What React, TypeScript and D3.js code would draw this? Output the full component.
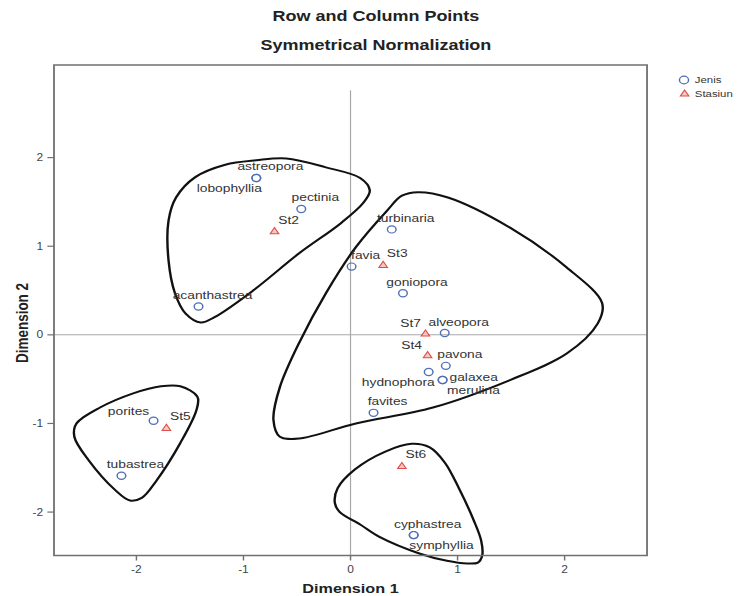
import React from 'react';
import * as d3 from 'd3';

// ---------- data ----------
const TITLE = 'Row and Column Points';
const SUBTITLE = 'Symmetrical Normalization';
const X_LABEL = 'Dimension 1';
const Y_LABEL = 'Dimension 2';
const X_TICKS = [-2, -1, 0, 1, 2];
const Y_TICKS = [-2, -1, 0, 1, 2];
const LEGEND_LABELS = ['Jenis', 'Stasiun'];

const JENIS_NAMES = ['astreopora', 'lobophyllia', 'pectinia', 'acanthastrea', 'turbinaria', 'favia', 'goniopora', 'alveopora', 'pavona', 'hydnophora', 'galaxea', 'merulina', 'favites', 'porites', 'tubastrea', 'cyphastrea', 'symphyllia'];
const JENIS_DIM1 = [-0.88, -0.88, -0.46, -1.42, 0.385, 0.01, 0.49, 0.88, 0.89, 0.73, 0.86, 0.86, 0.215, -1.84, -2.14, 0.59, 0.59];
const JENIS_DIM2 = [1.77, 1.77, 1.42, 0.32, 1.19, 0.77, 0.47, 0.02, -0.35, -0.42, -0.51, -0.51, -0.88, -0.97, -1.59, -2.26, -2.26];

const STASIUN_NAMES = ['St2', 'St3', 'St4', 'St5', 'St6', 'St7'];
const STASIUN_DIM1 = [-0.71, 0.305, 0.72, -1.72, 0.48, 0.7];
const STASIUN_DIM2 = [1.17, 0.79, -0.23, -1.05, -1.48, 0.015];

// hand-drawn group outlines (dimension units)
const HULL_TOP_LEFT = [[-0.88, 1.97], [-0.6, 1.99], [-0.23, 1.89], [0.09, 1.77], [0.18, 1.63], [0.12, 1.49], [-0.09, 1.26], [-0.48, 0.92], [-0.91, 0.5], [-1.27, 0.2], [-1.4, 0.14], [-1.54, 0.24], [-1.64, 0.47], [-1.7, 0.84], [-1.7, 1.29], [-1.63, 1.55], [-1.45, 1.78], [-1.17, 1.92]];
const HULL_CENTER = [[0.63, 1.61], [0.91, 1.55], [1.49, 1.21], [2.02, 0.76], [2.35, 0.36], [2.31, 0.13], [2.02, -0.21], [1.49, -0.51], [0.77, -0.82], [0.05, -1.0], [-0.48, -1.17], [-0.66, -1.15], [-0.72, -0.96], [-0.66, -0.59], [-0.48, -0.09], [-0.23, 0.47], [0.05, 0.99], [0.34, 1.4], [0.48, 1.57]];
const HULL_BOTTOM_LEFT = [[-1.59, -0.58], [-1.43, -0.7], [-1.44, -0.85], [-1.59, -1.22], [-1.81, -1.64], [-1.95, -1.84], [-2.06, -1.87], [-2.2, -1.75], [-2.45, -1.41], [-2.58, -1.15], [-2.56, -1.0], [-2.34, -0.82], [-2.03, -0.66], [-1.77, -0.58]];
const HULL_BOTTOM = [[-0.146, -1.9], [-0.12, -1.73], [0.04, -1.52], [0.32, -1.32], [0.57, -1.23], [0.74, -1.27], [0.88, -1.44], [1.02, -1.75], [1.15, -2.09], [1.22, -2.32], [1.23, -2.49], [1.19, -2.57], [1.09, -2.58], [0.9, -2.55], [0.65, -2.47], [0.27, -2.28], [0.09, -2.14], [-0.1, -2.0]];

// ---------- layout ----------
const W = 738;
const H = 596;
const SX = 1.2; // horizontal stretch of the original picture
const LEFT = 45;
const RIGHT = 539.2;
const TOP = 65;
const BOTTOM = 555.5;
const FONT = '"Liberation Sans", Arial, Helvetica, sans-serif';

// label placement: [anchor, dx, dy]
const DEFAULT_PLACE: [string, number, number] = ['middle', 11.7, -7.5];
const LABEL_PLACE: Record<string, [string, number, number]> = {
  lobophyllia: ['end', 4.6, 14],
  St7: ['end', -3.8, -6],
  St4: ['end', -4.7, -6],
  porites: ['end', -3.6, -5.4],
  hydnophora: ['end', 5, 14],
  galaxea: ['start', 5.8, 1.3],
  merulina: ['start', 3.7, 14],
  symphyllia: ['start', -3.6, 14],
};

export default function App() {
  const x = d3.scaleLinear().domain([-2.77, 2.77]).range([LEFT, RIGHT]);
  const y = d3.scaleLinear().domain([-2.49, 3.045]).range([BOTTOM, TOP]);

  const hullLine = d3
    .line<number[]>()
    .x((d) => x(d[0]))
    .y((d) => y(d[1]))
    .curve(d3.curveCatmullRomClosed.alpha(0.5));

  const tri = d3.symbol().type(d3.symbolTriangle).size(22)();

  const jenis = JENIS_NAMES.map((n, i) => ({ n, x: JENIS_DIM1[i], y: JENIS_DIM2[i] }));
  const stasiun = STASIUN_NAMES.map((n, i) => ({ n, x: STASIUN_DIM1[i], y: STASIUN_DIM2[i] }));
  const allLabels = [...jenis, ...stasiun];

  const circleColor = '#4f6fb6';
  const triColor = '#df4f48';
  const labelColor = '#333333';

  return (
    <svg
      width={W}
      height={H}
      style={{ position: 'absolute', left: 0, top: 0, background: '#fff' }}
      fontFamily={FONT}
    >
      <rect x={0} y={0} width={W} height={H} fill="#fff" />
      <g transform={`scale(${SX},1)`}>
        {/* titles */}
        <text x={313.3} y={21} textAnchor="middle" fontWeight="bold" fontSize={15} fill="#222">
          {TITLE}
        </text>
        <text x={313.3} y={50} textAnchor="middle" fontWeight="bold" fontSize={15} fill="#222">
          {SUBTITLE}
        </text>

        {/* reference lines */}
        <line x1={LEFT} x2={RIGHT} y1={y(0)} y2={y(0)} stroke="#a8a8a8" strokeWidth={1} />
        <line x1={x(0)} x2={x(0)} y1={y(2.76)} y2={BOTTOM} stroke="#a8a8a8" strokeWidth={1} />

        {/* group outlines */}
        <g fill="none" stroke="#111" strokeWidth={2}>
          {[HULL_TOP_LEFT, HULL_CENTER, HULL_BOTTOM_LEFT, HULL_BOTTOM].map((h, i) => (
            <path key={i} d={hullLine(h) || ''} />
          ))}
        </g>

        {/* points */}
        {jenis.map((d, i) => (
          <circle key={'c' + i} cx={x(d.x)} cy={y(d.y)} r={3.6} fill="none" stroke={circleColor} strokeWidth={1.2} />
        ))}
        {stasiun.map((d, i) => (
          <path key={'t' + i} d={tri || ''} transform={`translate(${x(d.x)},${y(d.y) + 0.5})`} fill="#f3c9c5" stroke={triColor} strokeWidth={1} />
        ))}

        {/* labels */}
        {allLabels.map((d, i) => {
          const p = LABEL_PLACE[d.n] || DEFAULT_PLACE;
          return (
            <text key={'l' + i} x={x(d.x) + p[1]} y={y(d.y) + p[2]} textAnchor={p[0]} fontSize={11.5} fill={labelColor}>
              {d.n}
            </text>
          );
        })}

        {/* frame */}
        <rect x={LEFT} y={TOP} width={RIGHT - LEFT} height={BOTTOM - TOP} fill="none" stroke="#707070" strokeWidth={1.5} />

        {/* x axis */}
        {X_TICKS.map((t) => (
          <g key={'xt' + t}>
            <line x1={x(t)} x2={x(t)} y1={BOTTOM} y2={BOTTOM + 5} stroke="#707070" strokeWidth={1.2} />
            <text x={x(t)} y={BOTTOM + 18} textAnchor="middle" fontSize={10} fill="#444">
              {t}
            </text>
          </g>
        ))}
        <text x={(LEFT + RIGHT) / 2} y={593} textAnchor="middle" fontWeight="bold" fontSize={13.5} fill="#222">
          {X_LABEL}
        </text>

        {/* y axis */}
        {Y_TICKS.map((t) => (
          <g key={'yt' + t}>
            <line x1={LEFT - 5.5} x2={LEFT} y1={y(t)} y2={y(t)} stroke="#707070" strokeWidth={1.2} />
            <text x={LEFT - 9} y={y(t)} dy="0.35em" textAnchor="end" fontSize={10} fill="#444">
              {t}
            </text>
          </g>
        ))}
        <text transform={`translate(23.5,323) rotate(-90)`} textAnchor="middle" fontWeight="bold" fontSize={13.5} fill="#222">
          {Y_LABEL}
        </text>

        {/* legend */}
        <circle cx={570} cy={80} r={3.8} fill="none" stroke={circleColor} strokeWidth={1.2} />
        <text x={579} y={83.5} fontSize={9.5} fill="#333">
          {LEGEND_LABELS[0]}
        </text>
        <path d={tri || ''} transform={`translate(570.5,94)`} fill="#f3c9c5" stroke={triColor} strokeWidth={1} />
        <text x={579} y={97.5} fontSize={9.5} fill="#333">
          {LEGEND_LABELS[1]}
        </text>
      </g>
    </svg>
  );
}
